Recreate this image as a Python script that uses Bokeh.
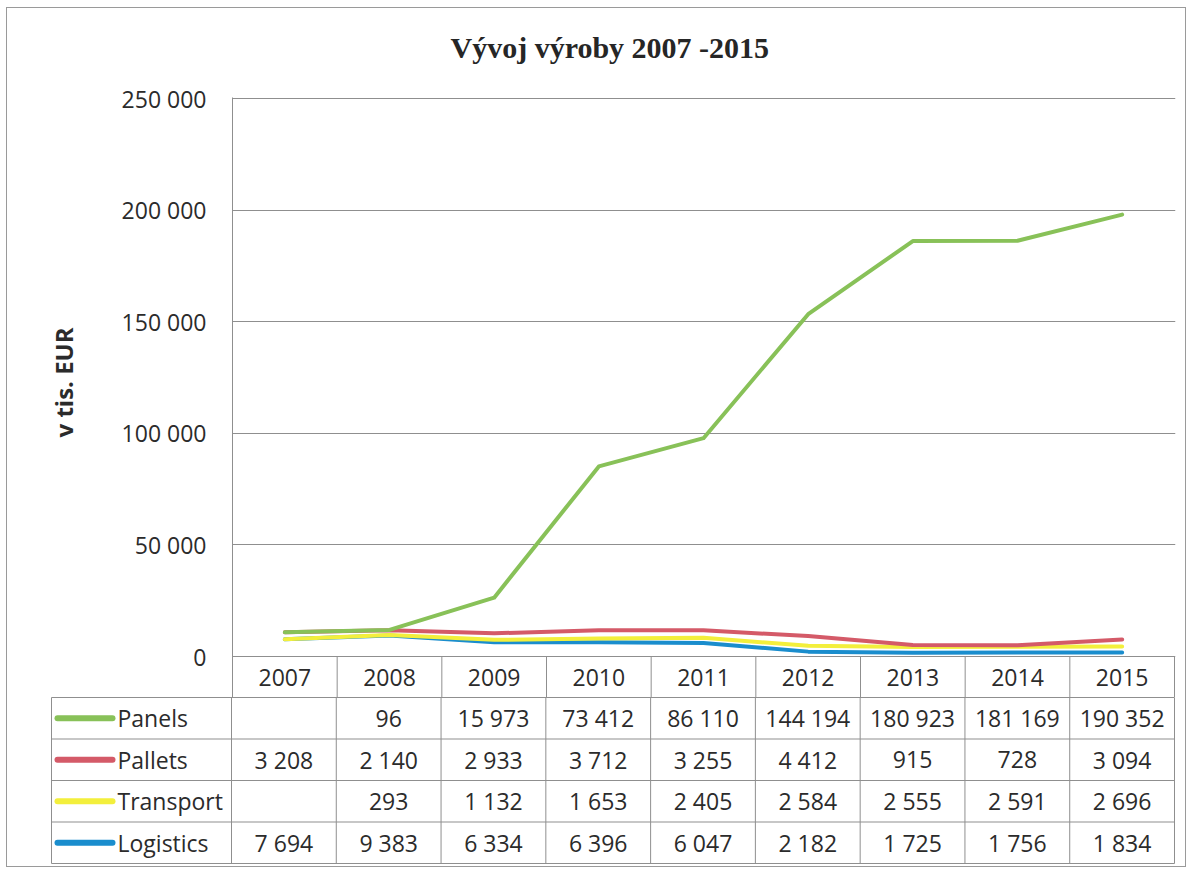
from bokeh.plotting import figure
from bokeh.layouts import column
from bokeh.models import Range1d, FixedTicker, Title
from bokeh.core.properties import value
from bokeh.embed import file_html
from bokeh.resources import INLINE
import numpy as np

# ---------------- data ----------------
years = ["2007", "2008", "2009", "2010", "2011", "2012", "2013", "2014", "2015"]
series_names = ["Panels", "Pallets", "Transport", "Logistics"]
panels = [None, 96, 15973, 73412, 86110, 144194, 180923, 181169, 190352]
pallets = [3208, 2140, 2933, 3712, 3255, 4412, 915, 728, 3094]
transport = [None, 293, 1132, 1653, 2405, 2584, 2555, 2591, 2696]
logistics = [7694, 9383, 6334, 6396, 6047, 2182, 1725, 1756, 1834]
y_ticks = [0, 50000, 100000, 150000, 200000, 250000]
title_text = "Vývoj výroby 2007 -2015"
y_label = "v tis. EUR"

colors = {"Panels": "#88c158", "Pallets": "#d45a68", "Transport": "#f3ef3c", "Logistics": "#1a8dcd"}
values = {"Panels": panels, "Pallets": pallets, "Transport": transport, "Logistics": logistics}


def fmt(v):
    if v is None:
        return ""
    return f"{v:,}".replace(",", " ")


GRID = "#8f8f8f"
TXT = "#2b2b2b"
FONT = "Open Sans"
n = len(years)
centers = [i + 0.5 for i in range(n)]

# stacked cumulative values (Excel stacked line); bottom = Logistics
stack_order = ["Logistics", "Transport", "Pallets", "Panels"]
cum = {}
running = np.zeros(n)
for name in stack_order:
    running = running + np.array([v or 0 for v in values[name]], dtype=float)
    cum[name] = running.copy()

# ---------------- chart figure ----------------
px_per_unit = 558.0 / 250000.0
y_start = -41.0 / px_per_unit
y_end = 250000 + 1.0 / px_per_unit
col_w = (1175 - 232) / 9.0

p = figure(width=1178, height=689, title=None,
           x_range=Range1d(0, 9 + 1.0 / col_w), y_range=Range1d(y_start, y_end),
           x_axis_location=None, output_backend="svg", toolbar_location=None,
           min_border_left=224, min_border_right=10, min_border_top=89, min_border_bottom=0)
p.outline_line_color = None
p.xgrid.visible = False
p.ygrid.ticker = FixedTicker(ticks=y_ticks)
p.ygrid.grid_line_color = GRID
p.ygrid.grid_line_width = 1
ax = p.yaxis[0]
ax.ticker = FixedTicker(ticks=y_ticks)
ax.major_label_overrides = {t: fmt(t) for t in y_ticks}
ax.axis_line_color = GRID
ax.major_tick_line_color = None
ax.minor_tick_line_color = None
ax.major_label_standoff = 20
ax.major_label_text_font = FONT
ax.major_label_text_font_size = "23px"
ax.major_label_text_color = TXT

# spacer between the title and the plot area, then the title itself
p.add_layout(Title(text=" ", text_font_size="10px", standoff=21), "above")
p.add_layout(Title(text=title_text, align="left", offset=218, text_font="Liberation Serif",
                   text_font_size="30px", text_font_style="bold", text_color="#262626",
                   standoff=0), "above")

p.add_layout(Title(text=y_label, align="left", offset=260, text_font=FONT,
                   text_font_size="24px", text_font_style="bold", text_color=TXT,
                   standoff=76, vertical_align="middle"), "left")

# header row of the data table (years)
p.segment(x0=list(range(1, n + 1)), y0=[y_start] * n, x1=list(range(1, n + 1)), y1=[0] * n,
          line_color=GRID, line_width=1)
p.text(x=centers, y=[y_start / 2] * n, text=years, text_align="center", text_baseline="middle",
       text_font=value(FONT), text_font_size="23px", text_color=TXT)

for name in stack_order:
    p.line(x=centers, y=list(cum[name]), line_color=colors[name], line_width=4,
           line_join="round", line_cap="round")

# ---------------- data table figure ----------------
label_w = (232 - 52) / col_w
t = figure(width=1178, height=169, x_range=Range1d(-label_w, 9), y_range=Range1d(0, 4),
           x_axis_location=None, y_axis_location=None, output_backend="svg", toolbar_location=None,
           min_border_left=44, min_border_right=11, min_border_top=0, min_border_bottom=3)
t.grid.visible = False
t.outline_line_color = GRID
t.segment(x0=[-label_w] * 3, y0=[1, 2, 3], x1=[9] * 3, y1=[1, 2, 3], line_color=GRID, line_width=1)
t.segment(x0=list(range(0, n)), y0=[0] * n, x1=list(range(0, n)), y1=[4] * n, line_color=GRID, line_width=1)

for k, name in enumerate(series_names):
    yrow = 3.5 - k
    t.text(x=centers, y=[yrow] * n, text=[fmt(v) for v in values[name]], text_align="center",
           text_baseline="middle", text_font=value(FONT), text_font_size="23px", text_color=TXT)
    t.segment(x0=[-label_w + 6 / col_w], y0=[yrow], x1=[-label_w + 61 / col_w], y1=[yrow],
              line_color=colors[name], line_width=6, line_cap="round")
    t.text(x=[-label_w + 66 / col_w], y=[yrow], text=[name], text_align="left", text_baseline="middle",
           text_font=value(FONT), text_font_size="23px", text_color=TXT)

for fig in (p, t):
    if hasattr(fig, "frame_align"):
        fig.frame_align = False

layout = column(p, t, spacing=0,
                styles={"border": "1px solid #9a9a9a", "margin-left": "6px", "margin-top": "7px"})

open("out.html", "w").write(file_html(layout, INLINE))
